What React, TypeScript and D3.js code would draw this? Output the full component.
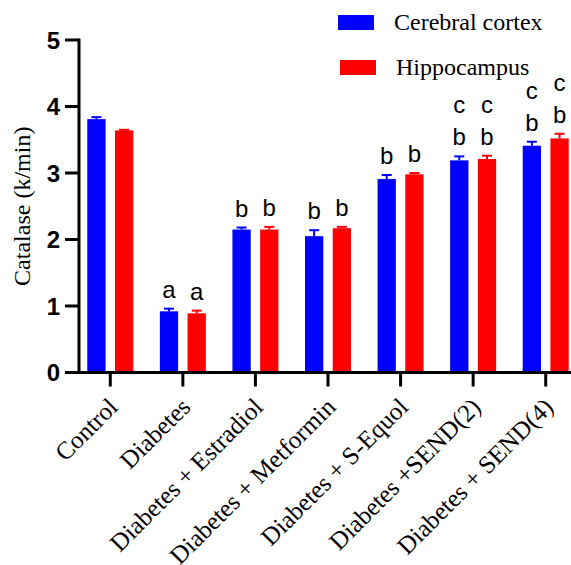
import React from 'react'
import * as d3 from 'd3'

const width = 571
const height = 565

const categories = [
  'Control',
  'Diabetes',
  'Diabetes + Estradiol',
  'Diabetes + Metformin',
  'Diabetes + S-Equol',
  'Diabetes +SEND(2)',
  'Diabetes + SEND(4)',
]
const seriesNames = ['Cerebral cortex', 'Hippocampus']
const cortexValues = [3.81, 0.92, 2.15, 2.05, 2.91, 3.19, 3.41]
const cortexErrors = [0.03, 0.04, 0.03, 0.09, 0.06, 0.06, 0.06]
const hippoValues = [3.64, 0.89, 2.15, 2.17, 2.98, 3.21, 3.52]
const hippoErrors = [0.01, 0.04, 0.04, 0.02, 0.02, 0.05, 0.07]
// letters above each bar, top line first
const cortexLetters = [[], ['a'], ['b'], ['b'], ['b'], ['c', 'b'], ['c', 'b']]
const hippoLetters = [[], ['a'], ['b'], ['b'], ['b'], ['c', 'b'], ['c', 'b']]
const yTicks = [0, 1, 2, 3, 4, 5]

const colors = ['#0000ff', '#ff0000']
const serif = '"Times New Roman", "Liberation Serif", serif'
const sans = 'Arial, "Liberation Sans", sans-serif'

const x = d3.scaleBand<string>().domain(categories).range([74, 582]).padding(0)
const xInner = d3.scaleBand<string>().domain(seriesNames).range([-23, 23]).paddingInner(0.34)
const y = d3.scaleLinear().domain([0, 5]).range([372.5, 40])

const series = [
  { name: seriesNames[0], values: cortexValues, errors: cortexErrors, letters: cortexLetters },
  { name: seriesNames[1], values: hippoValues, errors: hippoErrors, letters: hippoLetters },
]

export default function App() {
  const bw = xInner.bandwidth()
  return (
    <svg width={width} height={height} style={{ position: 'absolute', left: 0, top: 0 }}>
      {series.map((s, si) => (
        <g key={s.name}>
          {categories.map((c, i) => {
            const cx = x(c)! + x.bandwidth() / 2 + xInner(s.name)! + bw / 2
            const top = y(s.values[i])
            const errTop = y(s.values[i] + s.errors[i])
            return (
              <g key={c}>
                <line x1={cx} x2={cx} y1={top} y2={errTop} stroke={colors[si]} strokeWidth={2} />
                <line x1={cx - 5} x2={cx + 5} y1={errTop} y2={errTop} stroke={colors[si]} strokeWidth={2} />
                <rect x={cx - bw / 2} y={top} width={bw} height={y(0) - top} fill={colors[si]} />
                {s.letters[i].map((l, li) => (
                  <text
                    key={li}
                    x={cx}
                    y={errTop - 11 - (s.letters[i].length - 1 - li) * 32}
                    textAnchor="middle"
                    style={{ fontFamily: sans, fontSize: '24px' }}
                  >
                    {l}
                  </text>
                ))}
              </g>
            )
          })}
        </g>
      ))}

      {/* y axis */}
      <line x1={79} x2={79} y1={y(5) - 1.5} y2={y(0) + 1.5} stroke="#000" strokeWidth={3} />
      {yTicks.map((t) => (
        <g key={t}>
          <line x1={65} x2={79} y1={y(t)} y2={y(t)} stroke="#000" strokeWidth={3} />
          <text
            x={60}
            y={y(t)}
            dy="0.36em"
            textAnchor="end"
            style={{ fontFamily: sans, fontSize: '24px', fontWeight: 'bold' }}
          >
            {t}
          </text>
        </g>
      ))}
      <text
        transform={`translate(30, ${(y(0) + y(5)) / 2}) rotate(-90)`}
        textAnchor="middle"
        style={{ fontFamily: serif, fontSize: '24px' }}
      >
        Catalase (k/min)
      </text>

      {/* x axis */}
      <line x1={77.5} x2={571} y1={y(0)} y2={y(0)} stroke="#000" strokeWidth={3} />
      {categories.map((c) => {
        const cx = x(c)! + x.bandwidth() / 2
        return (
          <g key={c}>
            <line x1={cx} x2={cx} y1={y(0)} y2={y(0) + 14} stroke="#000" strokeWidth={3} />
            <text
              transform={`translate(${cx + 9}, ${y(0) + 36}) rotate(-45)`}
              textAnchor="end"
              style={{ fontFamily: serif, fontSize: '25px' }}
            >
              {c}
            </text>
          </g>
        )
      })}

      {/* legend */}
      {seriesNames.map((n, i) => (
        <g key={n} transform={`translate(${338 + i * 2}, ${15 + i * 45})`}>
          <rect width={36} height={15} fill={colors[i]} />
          <text x={56} y={15} style={{ fontFamily: serif, fontSize: '24px' }}>
            {n}
          </text>
        </g>
      ))}
    </svg>
  )
}
